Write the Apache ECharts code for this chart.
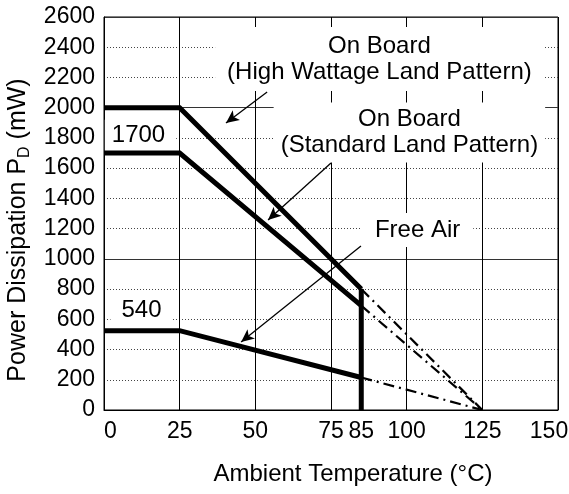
<!DOCTYPE html>
<html>
<head>
<meta charset="utf-8">
<script src="https://cdn.jsdelivr.net/npm/echarts@6/dist/echarts.min.js"></script>
<style>html,body{margin:0;padding:0;background:#fff}#c{width:569px;height:494px}</style>
</head>
<body>
<div id="c"></div>
<script>
// ---- data ----
const xTickLabels = [0, 25, 50, 75, 85, 100, 125, 150];
const tempX = [0, 25, 85];
const highWattage = [2000, 2000, 800];
const standardLand = [1700, 1700, 690];
const freeAir = [525, 525, 215];
const cutoffX = [85, 85];
const cutoffY = [0, 800];
const zeroAt = 125;
const annoText = ['On Board\n(High Wattage Land Pattern)', 'On Board\n(Standard Land Pattern)', 'Free Air', '1700', '540'];
const annoX = [91.0, 100.9, 103.6, 12.06, 12.39];
const annoY = [2322, 1836, 1191, 1815, 662];
const arrowFrom = [[53.9, 2104], [75.0, 1634], [84.9, 1085]];
const arrowTo = [[40.3, 1899], [54.2, 1257], [45.3, 450]];

// ---- styles ----
const FONT = '"Liberation Sans", Arial, sans-serif';
const annoPadding = [[6, 12, 6, 12], [4, 7, 4, 7], [4, 13, 4, 13], [3, 11, 3, 7], [3, 11, 3, 11]];

const zip = (xs, ys) => xs.map((x, i) => [x, ys[i]]);
const thick = { color: '#000', width: 5, cap: 'butt', join: 'miter' };
const dashDot = { color: '#000', width: 2.2, type: [11, 5, 2, 5] };

function curve(ys) {
  return {
    type: 'line', z: 3, data: zip(tempX, ys), symbol: 'none', silent: true,
    lineStyle: thick
  };
}
function extension(ys) {
  return {
    type: 'line', z: 3, data: [[tempX[tempX.length - 1], ys[ys.length - 1]], [zeroAt, 0]],
    symbol: 'none', silent: true, lineStyle: dashDot
  };
}

const chart = echarts.init(document.getElementById('c'), null, { renderer: 'canvas' });
chart.setOption({
  animation: false,
  backgroundColor: '#fff',
  textStyle: { fontFamily: FONT },
  grid: { left: 104, right: 11, top: 17, bottom: 84, show: true, borderColor: '#000', borderWidth: 1, containLabel: false, outerBoundsMode: 'none' },
  xAxis: {
    type: 'value', min: 0, max: 150, interval: 25,
    name: 'Ambient Temperature (°C)', nameLocation: 'middle', nameGap: 52,
    nameTextStyle: { fontSize: 24, color: '#000', fontFamily: FONT, padding: [0, 0, 0, 44] },
    axisLine: { show: true, lineStyle: { color: '#000', width: 1 } },
    axisTick: { show: false },
    splitLine: { show: true, lineStyle: { color: '#000', width: 1, type: 'solid' } },
    axisLabel: {
      customValues: xTickLabels, margin: 10, fontSize: 23, color: '#000', fontFamily: FONT,
      formatter: v => v === 0 ? '{l|0}' : (v === 150 ? '{r|150}' : String(v)),
      rich: {
        l: { fontSize: 23, fontFamily: FONT, color: '#000', padding: [0, 0, 0, 13] },
        r: { fontSize: 23, fontFamily: FONT, color: '#000', padding: [0, 18, 0, 0] }
      }
    }
  },
  yAxis: [{
    type: 'value', min: 0, max: 2600, interval: 200,
    name: '{n|Power Dissipation P}{s|D}{n| (mW)}', nameLocation: 'middle', nameGap: 63,
    nameTextStyle: {
      padding: [0, 33, 0, 0],
      rich: {
        n: { fontSize: 25, lineHeight: 30, fontFamily: FONT, color: '#000' },
        s: { fontSize: 16, lineHeight: 16, fontFamily: FONT, color: '#000', verticalAlign: 'bottom' }
      }
    },
    axisLine: { show: true, lineStyle: { color: '#000', width: 1 } },
    axisTick: { show: false },
    splitLine: { show: true, lineStyle: { color: '#444', width: 1, type: [1, 2] } },
    axisLabel: { margin: 9, fontSize: 23, color: '#000', fontFamily: FONT, formatter: v => String(v) }
  }, {
    type: 'value', min: 0, max: 2600, interval: 1000, position: 'left',
    axisLine: { show: false }, axisTick: { show: false }, axisLabel: { show: false },
    splitLine: { show: true, lineStyle: { color: '#333', width: 1, type: 'solid' } }
  }],
  series: [
    curve(highWattage),
    curve(standardLand),
    curve(freeAir),
    extension(highWattage),
    extension(standardLand),
    extension(freeAir),
    {
      type: 'line', z: 3, data: zip(cutoffX, cutoffY), symbol: 'none', silent: true,
      lineStyle: thick,
      markLine: {
        silent: true, symbol: ['none', 'arrow'], symbolSize: [9, 13],
        label: { show: false },
        lineStyle: { color: '#000', width: 1.3, type: 'solid' },
        emphasis: { disabled: true },
        data: arrowFrom.map((f, i) => [{ coord: f }, { coord: arrowTo[i] }])
      }
    },
    {
      type: 'scatter', z: 2, silent: true, symbolSize: 1,
      itemStyle: { color: 'rgba(0,0,0,0)', opacity: 1 },
      data: annoX.map((x, i) => ({
        value: [x, annoY[i]],
        label: { padding: annoPadding[i] }
      })),
      label: {
        show: true, position: 'inside',
        formatter: p => annoText[p.dataIndex],
        fontSize: 24, lineHeight: 26, color: '#000', fontFamily: FONT,
        textBorderWidth: 0, backgroundColor: '#fff', align: 'center', verticalAlign: 'middle'
      }
    }
  ]
});
</script>
</body>
</html>
